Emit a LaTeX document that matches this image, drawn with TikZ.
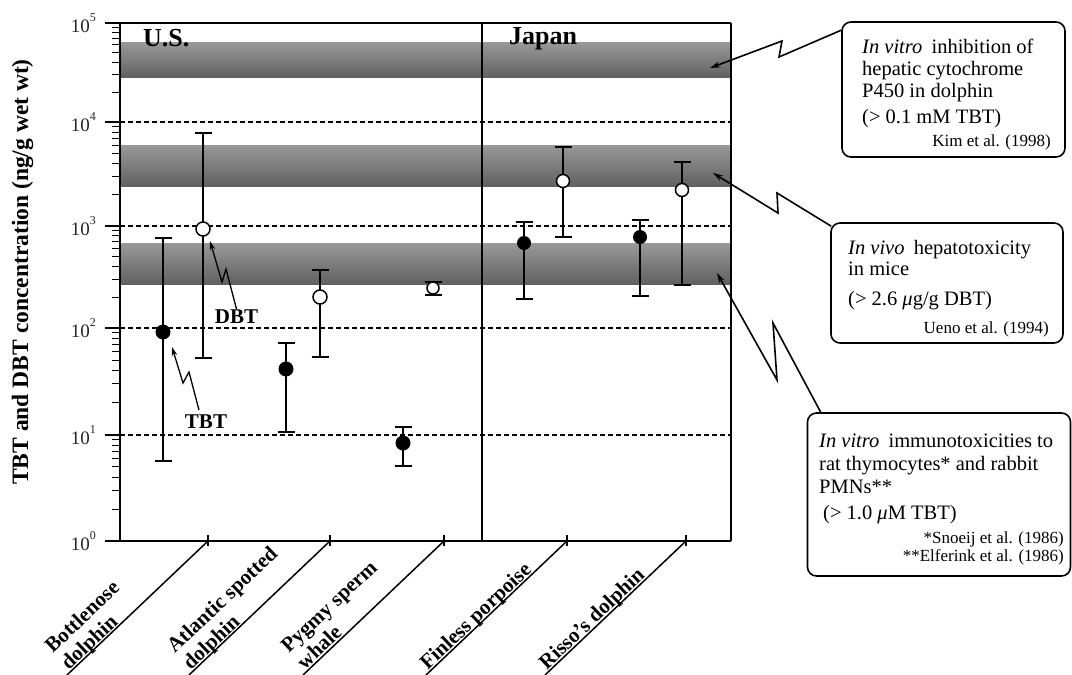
\documentclass[tikz,border=0pt]{standalone}
\usepackage{fontspec}
\setmainfont{Liberation Serif}
\usetikzlibrary{arrows.meta,calc}
\newcommand{\errbar}[3]{\draw[ebar] (#1-8.5,#2) -- (#1+8.5,#2) (#1,#2) -- (#1,#3) (#1-8.5,#3) -- (#1+8.5,#3);}
\newcommand{\decl}[1]{10\raisebox{11pt}{\fontsize{12pt}{12pt}\selectfont #1}}
\begin{document}
\begin{tikzpicture}[x=1pt,y=-1pt,
  lab/.style={inner sep=0pt, anchor=base west, font=\fontsize{20.5pt}{22pt}\selectfont},
  cite/.style={inner sep=0pt, anchor=base east, font=\fontsize{17pt}{18pt}\selectfont},
  xlab/.style={inner sep=0pt, anchor=base west, transform shape, font=\bfseries\fontsize{21pt}{22pt}\selectfont},
  ticklab/.style={inner sep=0pt, anchor=base east, text=black!85, font=\fontsize{19pt}{20pt}\selectfont},
  callout/.style={draw, line width=1.6pt, rounded corners=9pt, inner sep=0pt},
  band/.style={top color=black!40, bottom color=black!62, draw=none},
  ebar/.style={line width=2pt},
  tbt/.style={circle, fill=black, inner sep=0pt, minimum size=15pt},
  dbt/.style={circle, draw, fill=white, line width=1.5pt, inner sep=0pt, minimum size=14pt},
  gridline/.style={line width=1.3pt, dash pattern=on 4.5pt off 3.5pt},
  zig/.style={line width=1.6pt, -{Stealth[length=10pt,width=6pt]}},
  zigs/.style={line width=1.3pt, -{Stealth[length=9pt,width=5.5pt]}},
  region/.style={inner sep=0pt, anchor=base west, font=\bfseries\fontsize{26pt}{26pt}\selectfont},
  ptlab/.style={inner sep=0pt, anchor=base, font=\bfseries\fontsize{21pt}{22pt}\selectfont},
]
\useasboundingbox (0,0) rectangle (1072,675);
\fill[white] (0,0) rectangle (1072,675);

% bands
\fill[band] (120,42) rectangle (731,77);
\fill[band] (120,145) rectangle (731,186);
\fill[band] (120,243) rectangle (731,284);

% dashed grid lines and major ticks
\foreach \y in {122,226,328,435}{
  \draw[gridline] (120,\y) -- (731,\y);
  \draw[line width=1.5pt] (105,\y) -- (120,\y);
}
% minor ticks
\foreach \lo/\hi in {541/435,435/328,328/226,226/122,122/23}{
  \foreach \m in {2,...,9}{
    \draw[line width=1pt] (112,{\lo-(\lo-\hi)*log10(\m)}) -- (120,{\lo-(\lo-\hi)*log10(\m)});
  }
}
% frame
\draw[line width=1.8pt] (105,23) -- (731,23);
\draw[line width=1.8pt] (105,541) -- (731,541);
\draw[line width=1.8pt] (120,23) -- (120,541);
\draw[line width=1.3pt] (731,23) -- (731,541);
\draw[line width=1.3pt] (482,23) -- (482,541);

% tick labels
\node[ticklab] (y5) at (96,32.5) {\decl{5}};
\node[ticklab] (y4) at (96,131.5) {\decl{4}};
\node[ticklab] (y3) at (96,235.5) {\decl{3}};
\node[ticklab] (y2) at (96,337.5) {\decl{2}};
\node[ticklab] (y1) at (96,444.5) {\decl{1}};
\node[ticklab] (y0) at (96,550.5) {\decl{0}};

% y axis label
\node[rotate=90, anchor=base, inner sep=0pt, font=\bfseries\fontsize{23.5pt}{24pt}\selectfont] (ylab) at (28,272) {TBT and DBT concentration (ng/g wet wt)};

% region labels
\node[region] (us) at (143,46) {U.S.};
\node[region] (jp) at (509,44) {Japan};

% x ticks and diagonals
\foreach \x in {208,330,444,567,686}{
  \draw[line width=1.2pt] (\x,535) -- (\x,546);
  \draw[line width=1.5pt] (\x,541) -- (\x-141,675);
}
\begin{scope}[shift={(70,672)}, rotate=43.5]
  \node[xlab] (sp1b) at (0,-2) {dolphin};
  \node[xlab] (sp1a) at (0,-25) {Bottlenose};
\end{scope}
\begin{scope}[shift={(192,672)}, rotate=43.5]
  \node[xlab] (sp2b) at (0,-2) {dolphin};
  \node[xlab] (sp2a) at (0,-25) {Atlantic spotted};
\end{scope}
\begin{scope}[shift={(306,672)}, rotate=43.5]
  \node[xlab] (sp3b) at (0,-2) {whale};
  \node[xlab] (sp3a) at (0,-25) {Pygmy sperm};
\end{scope}
\begin{scope}[shift={(429,672)}, rotate=43.5]
  \node[xlab] (sp4) at (0,-2) {Finless porpoise};
\end{scope}
\begin{scope}[shift={(548,672)}, rotate=43.5]
  \node[xlab] (sp5) at (0,-2) {Risso's dolphin};
\end{scope}

% data: error bars
\errbar{163}{238}{461}
\errbar{203}{133}{358}
\errbar{286}{343}{432}
\errbar{320}{270}{357}
\errbar{403}{427}{466}
\errbar{433}{282}{295}
\errbar{524}{222}{299}
\errbar{563}{147}{237}
\errbar{640}{220}{296}
\errbar{682}{162}{285}
% data: points
\node[tbt] (t1) at (163,332) {};
\node[dbt] (d1) at (203,229) {};
\node[tbt] (t2) at (286,369) {};
\node[dbt] (d2) at (320,297) {};
\node[tbt] (t3) at (403,443) {};
\node[dbt, minimum size=12pt] (d3) at (433,288) {};
\node[tbt, minimum size=14pt] (t4) at (524,243) {};
\node[dbt, minimum size=13pt] (d4) at (563,181) {};
\node[tbt, minimum size=14pt] (t5) at (640,237) {};
\node[dbt, minimum size=13pt] (d5) at (682,190) {};

% DBT / TBT labels
\node[ptlab] (dbtlab) at (236.5,323) {DBT};
\node[ptlab] (tbtlab) at (206,428) {TBT};
\coordinate (dtip) at (210,241);
\coordinate (ttip) at (172,347);
\draw[zigs] (dbtlab.north) -- (226,269) -- (222,282) -- (dtip);
\draw[zigs] ($(tbtlab.north)+(-7,-4)$) -- (189,372) -- (183,383) -- (ttip);

% callout boxes
\node[callout, minimum width=223pt, minimum height=135pt] (box1) at (953.5,89.5) {};
\node[callout, minimum width=232pt, minimum height=120pt] (box2) at (947,283) {};
\node[callout, minimum width=263pt, minimum height=163pt] (box3) at (939,494.5) {};

\node[lab] (b1l1) at (862,53) {\textit{In vitro}\hspace{0.45em}inhibition of};
\node[lab] (b1l2) at (862,75) {hepatic cytochrome};
\node[lab] (b1l3) at (862,97) {P450 in dolphin};
\node[lab] (b1l4) at (862,123) {(> 0.1 mM TBT)};
\node[cite] (b1c) at (1051,146) {Kim et al. (1998)};

\node[lab] (b2l1) at (848,254) {\textit{In vivo}\hspace{0.45em}hepatotoxicity};
\node[lab] (b2l2) at (848,275) {in mice};
\node[lab] (b2l3) at (848,305) {(> 2.6 \textit{μ}g/g DBT)};
\node[cite] (b2c) at (1049,333) {Ueno et al. (1994)};

\node[lab] (b3l1) at (819,447) {\textit{In vitro}\hspace{0.45em}immunotoxicities to};
\node[lab] (b3l2) at (819,470) {rat thymocytes* and rabbit};
\node[lab] (b3l3) at (819,493) {PMNs**};
\node[lab] (b3l4) at (823,519) {(> 1.0 \textit{μ}M TBT)};
\node[cite] (b3c1) at (1064,543) {*Snoeij et al. (1986)};
\node[cite] (b3c2) at (1064,561) {**Elferink et al. (1986)};

% callout arrows
\coordinate (tip1) at (710,68);
\coordinate (tip2) at (713,173);
\coordinate (tip3) at (717,273);
\draw[zig] ($(box1.north west)+(0,9)$) -- (779,57) -- (782,41) -- (tip1);
\draw[zig] ($(box2.north west)+(1,4)$) -- (777,193) -- (778,213) -- (tip2);
\draw[zig] ($(box3.north west)+(14,0)$) -- (773,323) -- (777,380) -- (tip3);
\end{tikzpicture}
\end{document}
